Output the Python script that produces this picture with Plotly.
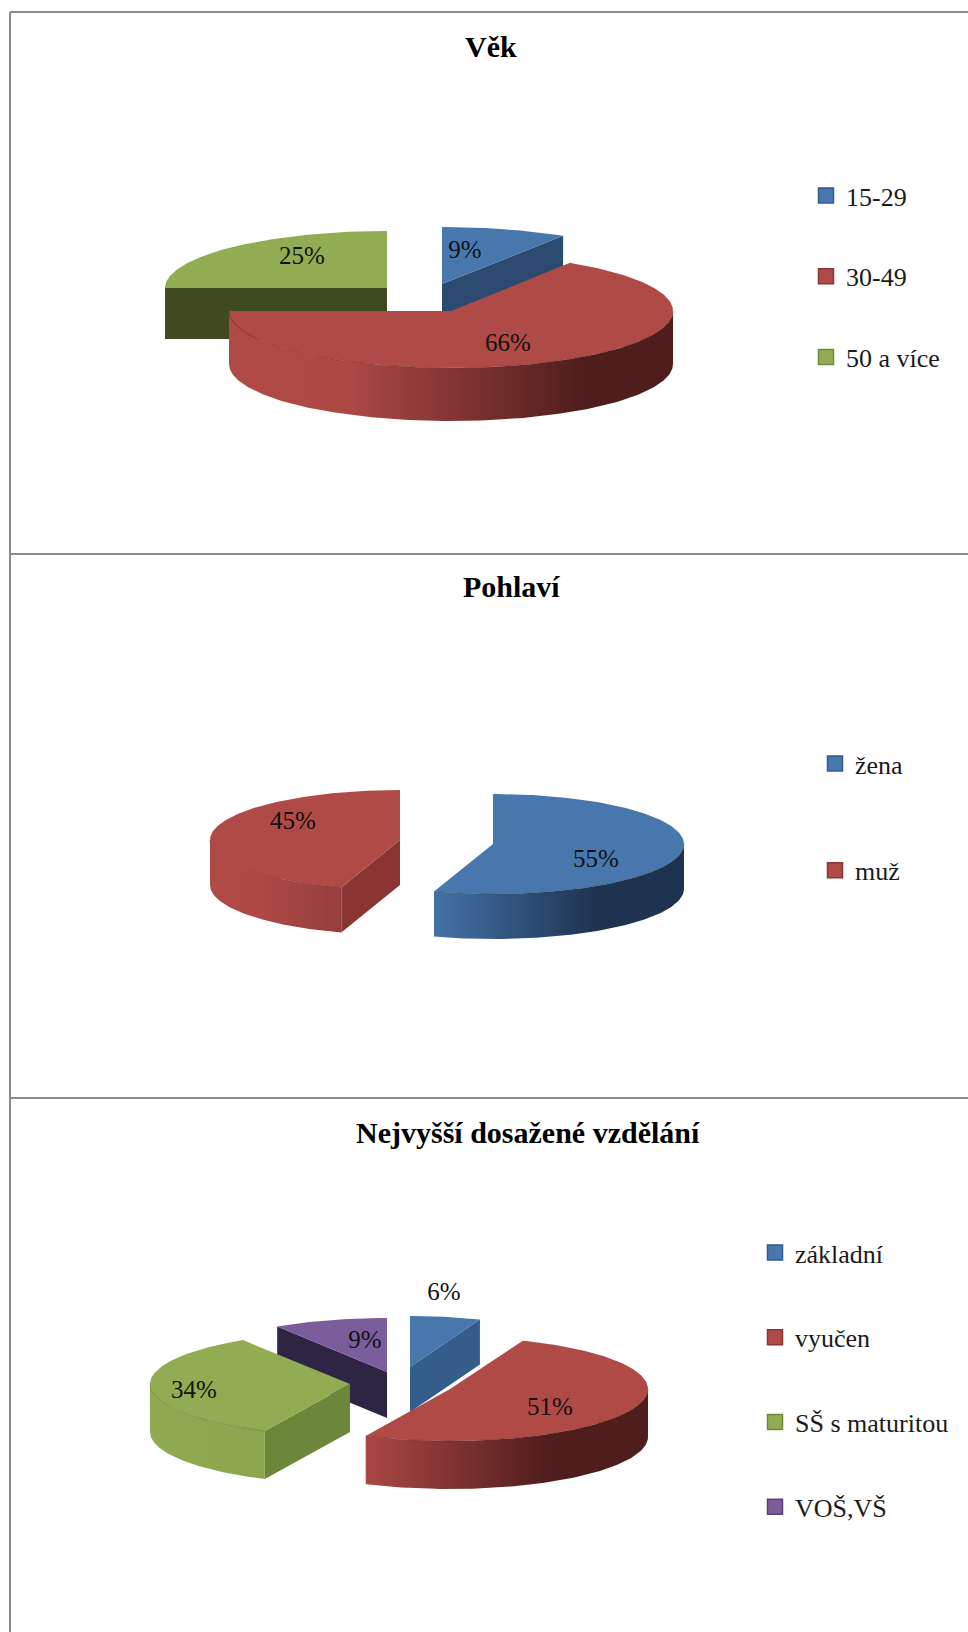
import math
import plotly.graph_objects as go

W, H = 968, 1632
FONT = "Liberation Serif"

# ---- data ----
vek_categories = ["15-29", "30-49", "50 a více"]
vek_values = [9, 66, 25]
pohlavi_categories = ["žena", "muž"]
pohlavi_values = [55, 45]
vzdelani_categories = ["základní", "vyučen", "SŠ s maturitou", "VOŠ,VŠ"]
vzdelani_values = [6, 51, 34, 9]
titles = ["Věk", "Pohlaví", "Nejvyšší dosažené vzdělání"]

# ---- styles ----
TOP = {"blue": "#4877AE", "red": "#AF4A47", "green": "#91AC52", "purple": "#7A5D9A"}
LEGEND_EDGE = {"blue": "#2F5C8F", "red": "#8C3432", "green": "#6F8A38", "purple": "#5A4279"}
colors = ["blue", "red", "green", "purple"]

panels = [
    dict(title_xy=(491, 46),
         cats=vek_categories, vals=vek_values, legend=(806, 172), gap=44,
         slices=[
             dict(c=(442, 284), r=(226, 57), d=52, cut="#2C4A70", side=[[0, "#4877AE"], [1, "#1F3550"]], lab=(465, 252)),
             dict(c=(451, 311), r=(222, 57), d=53, cut="#7A2E2C",
                  side=[[0, "#AF4A47"], [0.27, "#AD4845"], [0.8, "#4F1D1C"], [1, "#4F1D1C"]], lab=(508, 345)),
             dict(c=(387, 288), r=(222, 57), d=51, cut="#3F4A20", side=[[0, "#91AC52"], [1, "#6F8A38"]], lab=(302, 258)),
         ]),
    dict(title_xy=(511, 586),
         cats=pohlavi_categories, vals=pohlavi_values, legend=(815, 740), gap=70,
         slices=[
             dict(c=(493, 844), r=(191, 50), d=45, cut="#1D3350",
                  side=[[0, "#4372A8"], [0.65, "#1E3350"], [1, "#1E3350"]], lab=(596, 861)),
             dict(c=(400, 840), r=(190, 50), d=45, cut="#8A3533",
                  side=[[0, "#AF4A47"], [0.4, "#AD4845"], [1, "#953F3C"]], lab=(293, 823)),
         ]),
    dict(title_xy=(528, 1132),
         cats=vzdelani_categories, vals=vzdelani_values, legend=(755, 1229), gap=48,
         slices=[
             dict(c=(410, 1367), r=(190, 51), d=45, cut="#335E8C", side=[[0, "#335E8C"], [1, "#335E8C"]], lab=(444, 1294)),
             dict(c=(450, 1389), r=(198, 52), d=48, cut="#7A2E2C",
                  side=[[0, "#AB4745"], [0.65, "#4F1D1C"], [1, "#4F1D1C"]], lab=(550, 1409)),
             dict(c=(350, 1384), r=(200, 52), d=48, cut="#6C8739",
                  side=[[0, "#8FAA50"], [1, "#8BA64D"]], lab=(194, 1392)),
             dict(c=(387, 1372), r=(205, 54), d=46, cut="#2E2545", side=[[0, "#2E2545"], [1, "#2E2545"]], lab=(365, 1342)),
         ]),
]


def rim(slc, a):
    """Point on the top rim at angle a, clockwise from 12 o'clock."""
    t = math.radians(a)
    return slc["c"][0] + slc["r"][0] * math.sin(t), slc["c"][1] - slc["r"][1] * math.cos(t)


def arc(slc, a1, a2):
    n = max(2, int(abs(a2 - a1)) + 1)
    return [rim(slc, a1 + (a2 - a1) * i / (n - 1)) for i in range(n)]


def poly(points, **kw):
    xs = [p[0] for p in points] + [points[0][0]]
    ys = [p[1] for p in points] + [points[0][1]]
    return go.Scatter(x=xs, y=ys, mode="lines", fill="toself", line=dict(width=0),
                      hoverinfo="skip", showlegend=False, **kw)


fig = go.Figure()
for pi, panel in enumerate(panels):
    total = sum(panel["vals"])
    start = 0.0
    spans = []
    for v in panel["vals"]:
        end = start + 360.0 * v / total
        spans.append((start, end))
        start = end
    order = sorted(range(len(spans)), key=lambda k: panel["slices"][k]["c"][1])
    for k in order:
        slc, (a1, a2) = panel["slices"][k], spans[k]
        col = TOP[colors[k]]
        d = slc["d"]
        # cut faces that look toward the viewer
        for a, visible in ((a1, math.sin(math.radians(a1)) < -1e-6), (a2, math.sin(math.radians(a2)) > 1e-6)):
            if visible:
                p = rim(slc, a)
                fig.add_trace(poly([slc["c"], p, (p[0], p[1] + d), (slc["c"][0], slc["c"][1] + d)],
                                   fillcolor=slc["cut"]))
        # outer wall: the front part of the rim only
        f1, f2 = max(a1, 90.0), min(a2, 270.0)
        if f2 > f1:
            top = arc(slc, f1, f2)
            bottom = [(x, y + d) for x, y in reversed(top)]
            fig.add_trace(poly(top + bottom, fillcolor=col,
                               fillgradient=dict(type="horizontal", colorscale=slc["side"])))
        # top face
        fig.add_trace(poly([slc["c"]] + arc(slc, a1, a2), fillcolor=col))
        if f2 > f1:
            fig.add_trace(go.Scatter(x=[p[0] for p in top], y=[p[1] for p in top], mode="lines",
                                     line=dict(width=1, color="rgba(110,40,38,0.45)" if colors[k] == "red"
                                               else "rgba(40,60,30,0.30)"),
                                     hoverinfo="skip", showlegend=False))
    # value labels
    fig.add_trace(go.Scatter(
        x=[s["lab"][0] for s in panel["slices"]], y=[s["lab"][1] for s in panel["slices"]],
        text=[f"{v}%" for v in panel["vals"]], mode="text",
        textfont=dict(family=FONT, size=25, color="#111111"),
        hoverinfo="skip", showlegend=False))
    # legend entries
    legend_id = "legend" if pi == 0 else f"legend{pi + 1}"
    for k, name in enumerate(panel["cats"]):
        fig.add_trace(go.Scatter(
            x=[None], y=[None], mode="markers", name=name,
            legend=legend_id, legendgroup=f"{pi}-{k}",
            marker=dict(symbol="square", size=15, color=TOP[colors[k]],
                        line=dict(width=1.5, color=LEGEND_EDGE[colors[k]]))))
    fig.add_annotation(x=panel["title_xy"][0], y=panel["title_xy"][1], text=f"<b>{titles[pi]}</b>",
                       showarrow=False, font=dict(family=FONT, size=30, color="#000000"))
    fig.layout[legend_id] = dict(
        x=panel["legend"][0] / W, y=1 - panel["legend"][1] / H, xanchor="left", yanchor="top",
        bgcolor="rgba(0,0,0,0)", font=dict(family=FONT, size=26, color="#1a1a1a"),
        tracegroupgap=panel["gap"], itemwidth=30, itemclick=False, itemdoubleclick=False,
        traceorder="grouped")

LINE = dict(color="#8C8C8C", width=2)
for x0, y0, x1, y1 in [(10, 12, W, 12), (10, 12, 10, H), (10, 554, W, 554), (10, 1098, W, 1098)]:
    fig.add_shape(type="line", x0=x0, y0=y0, x1=x1, y1=y1, line=LINE, layer="below")

fig.update_layout(
    width=W, height=H, margin=dict(l=0, r=0, t=0, b=0),
    paper_bgcolor="white", plot_bgcolor="white", showlegend=True,
    xaxis=dict(range=[0, W], visible=False, fixedrange=True),
    yaxis=dict(range=[H, 0], visible=False, fixedrange=True),
)
fig.write_html("out.html", config={"displayModeBar": False},
               post_script="document.body.style.margin='0';")
